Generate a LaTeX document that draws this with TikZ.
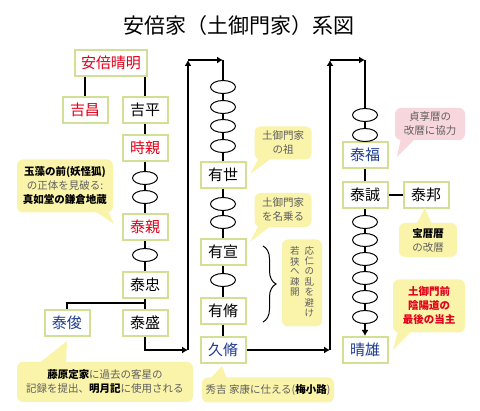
\documentclass[tikz,border=0pt]{standalone}
\usepackage{fontspec}
\setmainfont{Noto Sans CJK JP}
\usetikzlibrary{arrows.meta,shapes.geometric,decorations.pathreplacing}
\definecolor{boxline}{RGB}{210,224,150}
\definecolor{notefill}{RGB}{250,243,170}
\definecolor{pinkfill}{RGB}{248,214,221}
\definecolor{namered}{RGB}{226,0,26}
\definecolor{nameblue}{RGB}{30,60,145}
\definecolor{notegray}{RGB}{95,95,95}
\newcommand{\kw}[1]{\textbf{\color{black}#1}}
\begin{document}
\begin{tikzpicture}[x=1pt,y=-1pt,line width=2.2pt,>={Latex[length=6pt,width=7pt]}]
    \tikzstyle{person}=[draw=boxline,line width=2pt,fill=white,minimum width=45pt,minimum height=26pt,inner sep=2pt,font=\fontsize{15}{15}\selectfont];
    \tikzstyle{gap}=[draw,ellipse,fill=white,line width=1pt,minimum width=25pt,minimum height=13pt,inner sep=0pt];
    \tikzstyle{note}=[fill=notefill,rounded corners=6pt,align=center,text=notegray,inner sep=0pt,font=\fontsize{10.5}{14}\selectfont];
    \useasboundingbox (0, 0) rectangle (480, 411);

    \node at (239, 26) (title) [font=\fontsize{21}{21}\selectfont] {安倍家（土御門家）系図};

    \node at (111, 63)  (seimei)    [person,minimum width=72pt,text=namered] {安倍晴明};
    \node at (85, 110)  (yoshimasa) [person,text=namered] {吉昌};
    \node at (145, 110) (yoshihira) [person] {吉平};
    \node at (145, 148) (tokichika) [person,text=namered] {時親};
    \node at (145, 227) (yasuchika) [person,text=namered] {泰親};
    \node at (145, 285) (yasutada)  [person] {泰忠};
    \node at (67, 323)  (yasutoshi) [person,text=nameblue] {泰俊};
    \node at (145, 323) (yasumori)  [person] {泰盛};

    \node at (223, 175) (ariyo)     [person] {有世};
    \node at (223, 252) (arinobu)   [person] {有宣};
    \node at (223, 311) (arinaga)   [person] {有脩};
    \node at (223, 350) (hisanaga)  [person,text=nameblue] {久脩};

    \node at (365, 155) (yasutomi)  [person,text=nameblue] {泰福};
    \node at (365, 195) (yasunobu)  [person] {泰誠};
    \node at (426, 195) (yasukuni)  [person] {泰邦};
    \node at (365, 350) (haruo)     [person,text=nameblue] {晴雄};

    \coordinate (fork)  at (145, 303);
    \coordinate (turn1) at (188, 350);
    \coordinate (turn2) at (188, 60);
    \coordinate (top2)  at (223, 60);
    \coordinate (turn3) at (330, 350);
    \coordinate (turn4) at (330, 60);
    \coordinate (top3)  at (365, 60);

    \draw (seimei.south -| yoshimasa) -- (yoshimasa);
    \draw (seimei.south -| yoshihira) -- (yoshihira);
    \draw (yoshihira) -- (tokichika);
    \draw (tokichika) -- (yasuchika);
    \draw (yasuchika) -- (yasutada);
    \draw (yasutada) -- (yasumori);
    \draw (yasutoshi) |- (fork);
    \draw[->] (yasumori) |- (turn1);
    \draw[->] (turn1) -- (turn2);
    \draw[->] (turn2) -- (top2);
    \draw (top2) -- (ariyo);
    \draw (ariyo) -- (arinobu);
    \draw (arinobu) -- (arinaga);
    \draw (arinaga) -- (hisanaga);
    \draw[->] (hisanaga) -- (turn3);
    \draw[->] (turn3) -- (turn4);
    \draw[->] (turn4) -- (top3);
    \draw (top3) -- (yasutomi);
    \draw (yasutomi) -- (yasunobu);
    \draw (yasunobu) -- (yasukuni);
    \draw[->] (yasunobu) -- (haruo);

    \foreach \y [count=\i] in {178, 197, 255}
        \node at (145, \y) (gapA\i) [gap] {};
    \foreach \y [count=\i] in {87, 107, 126, 146, 204, 222, 280}
        \node at (223, \y) (gapB\i) [gap] {};
    \foreach \y [count=\i] in {115, 135, 222, 240, 259, 278, 297, 317}
        \node at (365, \y) (gapC\i) [gap] {};

    \node at (65, 186) (tamamo) [note,minimum width=96pt,minimum height=53pt] {\kw{玉藻の前(妖怪狐)}\\の正体を見破る:\\\kw{真如堂の鎌倉地蔵}};
    \fill[notefill] (95, 211) -- (108, 211) -- (114, 224) -- cycle;
    \node at (105, 382) (teika) [note,minimum width=176pt,minimum height=40pt] {\kw{藤原定家}に過去の客星の\\記録を提出、\kw{明月記}に使用される};
    \fill[notefill] (38, 364) -- (66, 364) -- (67, 341) -- cycle;
    \node at (283, 143) (founder) [note,minimum width=57pt,minimum height=33pt] {土御門家\\の祖};
    \fill[notefill] (259, 158) -- (272, 158) -- (250, 174) -- cycle;
    \node at (283, 210) (naming) [note,minimum width=57pt,minimum height=34pt] {土御門家\\を名乗る};
    \fill[notefill] (259, 225) -- (272, 225) -- (250, 242) -- cycle;
    \node at (302, 283) (exile) [note,minimum width=40pt,minimum height=87pt,font=\fontsize{9.5}{9.5}\selectfont]
        {\begin{tabular}[t]{@{}c@{}}若\\狭\\へ\\疎\\開\end{tabular}\hspace{5pt}\begin{tabular}[t]{@{}c@{}}応\\仁\\の\\乱\\を\\避\\け\end{tabular}};
    \draw[decorate,decoration={brace,amplitude=13pt},line width=1pt] (263, 246) -- (263, 322);
    \node at (268, 390) (umekoji) [note,minimum width=132pt,minimum height=25pt] {秀吉 家康に仕える(\kw{梅小路})};
    \fill[notefill] (210, 379) -- (227, 379) -- (222, 366) -- cycle;
    \node at (430, 124) (jokyo) [note,fill=pinkfill,minimum width=70pt,minimum height=32pt] {貞享暦の\\改暦に協力};
    \fill[pinkfill] (401, 138) -- (416, 138) -- (397, 157) -- cycle;
    \node at (428, 240) (horeki) [note,minimum width=58pt,minimum height=34pt] {\kw{宝暦暦}\\の改暦};
    \fill[notefill] (416, 225) -- (432, 225) -- (425, 208) -- cycle;
    \node at (429, 306) (last) [note,minimum width=72pt,minimum height=53pt,text=namered,font=\fontsize{10.5}{14}\selectfont\bfseries] {土御門前\\陰陽道の\\最後の当主};
    \fill[notefill] (398, 331) -- (412, 331) -- (393, 350) -- cycle;
\end{tikzpicture}
\end{document}
